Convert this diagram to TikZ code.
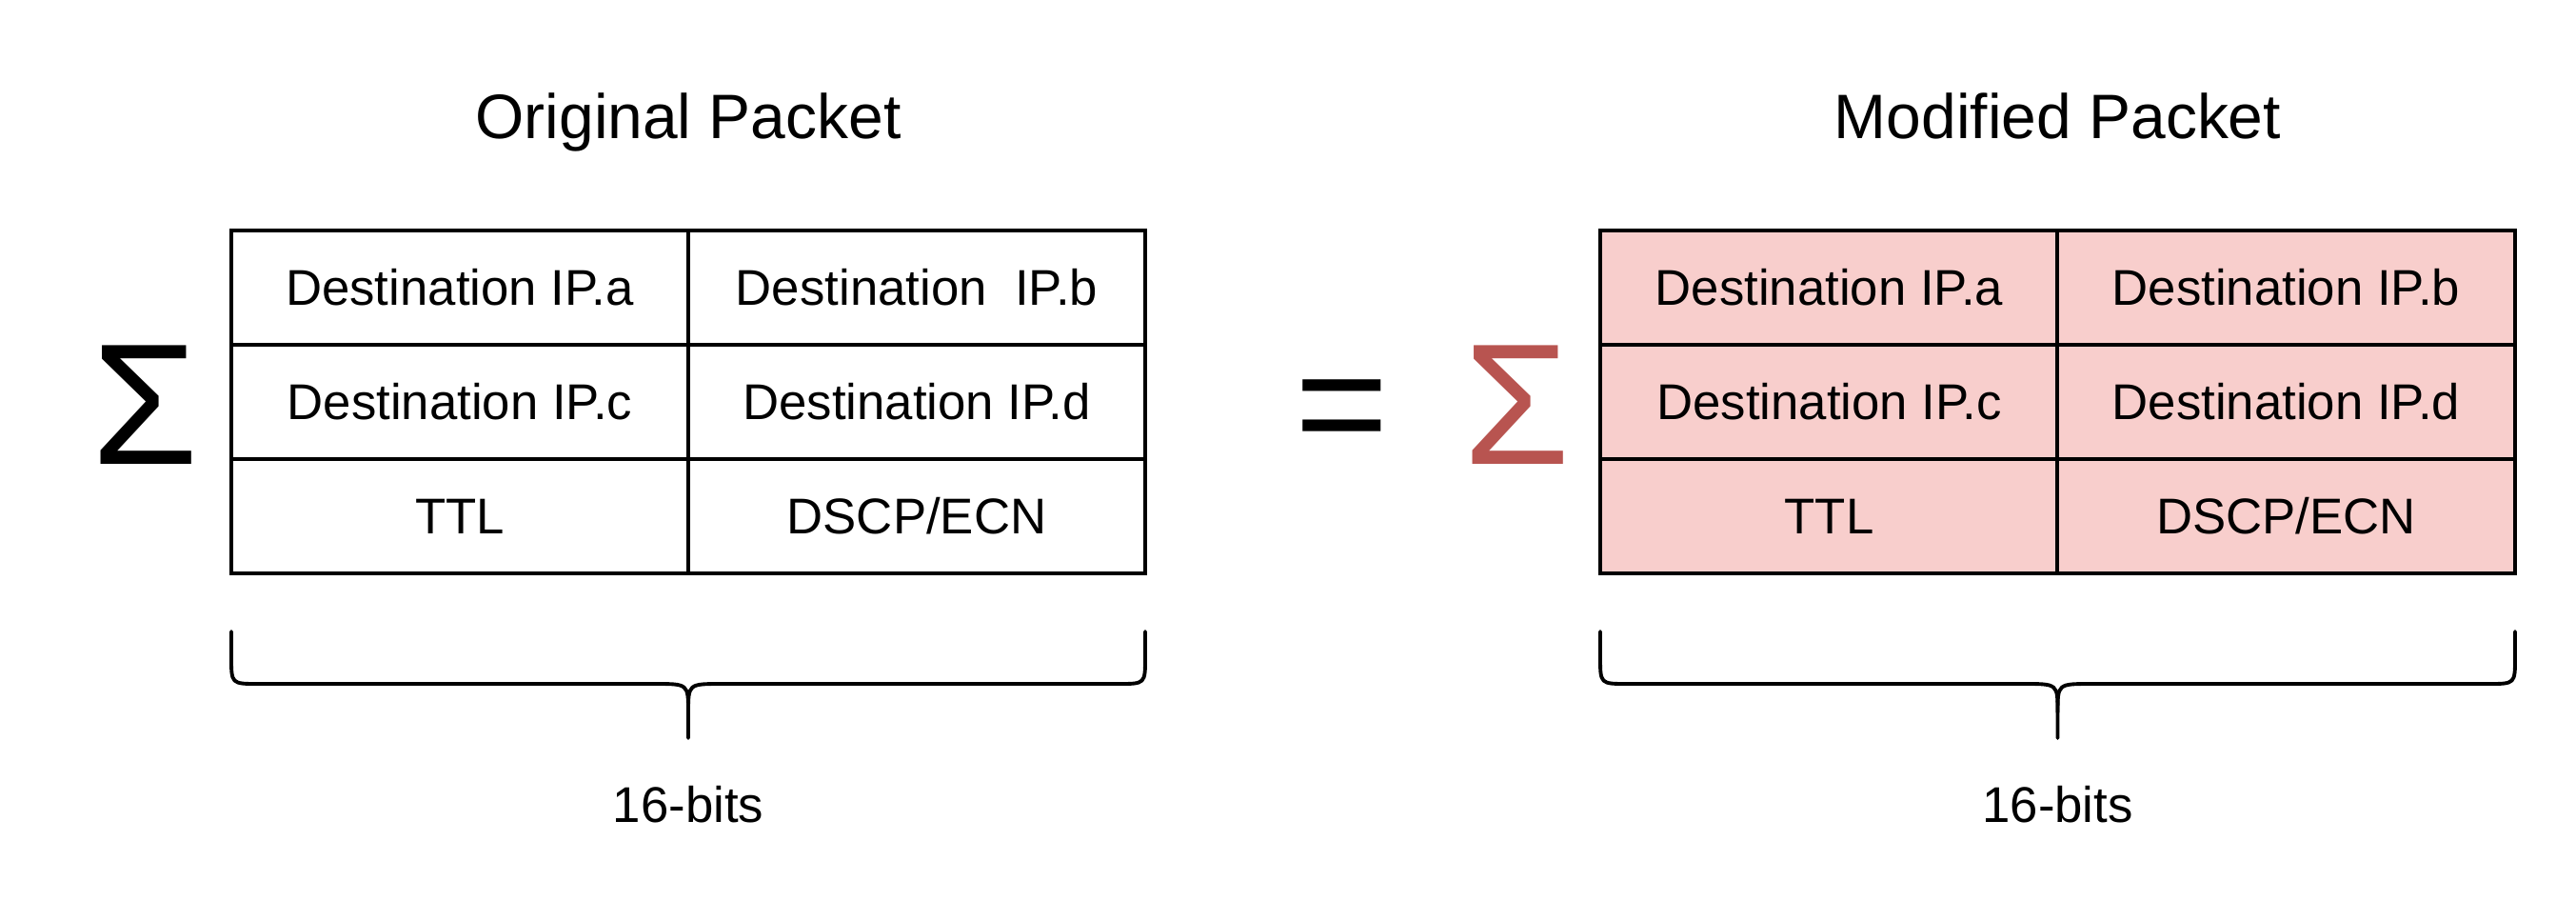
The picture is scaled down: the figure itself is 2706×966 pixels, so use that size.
\documentclass[tikz,border=0pt]{standalone}
\usepackage{fontspec}
\setmainfont{Liberation Sans}
\definecolor{cellred}{HTML}{F8CECC}
\definecolor{sigred}{HTML}{B85450}
\tikzset{
  cell/.style={draw=black, line width=1.1pt, minimum width=4.8cm, minimum height=1.2cm,
    inner sep=0pt, font=\fontsize{15}{18}\selectfont, text height=10.74pt, text depth=0pt},
  redcell/.style={cell, fill=cellred},
  title/.style={inner sep=0pt, font=\fontsize{18.75}{22}\selectfont, text height=13.42pt, text depth=0pt},
  bits/.style={inner sep=0pt, font=\fontsize{15}{18}\selectfont, text height=10.74pt, text depth=0pt},
  bigsym/.style={inner sep=0pt, anchor=base, font=\fontsize{51.5}{60}\selectfont},
  bracel/.style={line width=1.1pt, line cap=round}
}
\begin{document}
\begin{tikzpicture}[x=0.01cm, y=-0.01cm]
\useasboundingbox (0,0) rectangle (2706,966);
% titles
\node[title] (t1) at (723,121.5) {Original Packet};
\node[title] (t2) at (2161.5,121.5) {Modified Packet};
% left table
\node[cell] (a1) at (483,302) {Destination IP.a};
\node[cell] (b1) at (963,302) {Destination~ IP.b};
\node[cell] (c1) at (483,422) {Destination IP.c};
\node[cell] (d1) at (963,422) {Destination IP.d};
\node[cell] (e1) at (483,542) {TTL};
\node[cell] (f1) at (963,542) {DSCP/ECN};
% right table
\node[redcell] (a2) at (1921.5,302) {Destination IP.a};
\node[redcell] (b2) at (2401.5,302) {Destination IP.b};
\node[redcell] (c2) at (1921.5,422) {Destination IP.c};
\node[redcell] (d2) at (2401.5,422) {Destination IP.d};
\node[redcell] (e2) at (1921.5,542) {TTL};
\node[redcell] (f2) at (2401.5,542) {DSCP/ECN};
% symbols
\node[bigsym] (s1) at (152,487) {Σ};
\node[bigsym, font=\fontsize{48}{56}\selectfont] (eq) at (1410,481) {=};
\node[bigsym, text=sigred] (s2) at (1593,487) {Σ};
% braces
\draw[bracel] (243,663) -- (243,690) .. controls (243,718) .. (271,718) -- (688,718) .. controls (723,718) .. (723,748) -- (723,775);
\draw[bracel] (1203,663) -- (1203,690) .. controls (1203,718) .. (1175,718) -- (758,718) .. controls (723,718) .. (723,748);
\draw[bracel] (1681,663) -- (1681,690) .. controls (1681,718) .. (1709,718) -- (2126.5,718) .. controls (2161.5,718) .. (2161.5,748) -- (2161.5,775);
\draw[bracel] (2642,663) -- (2642,690) .. controls (2642,718) .. (2614,718) -- (2196.5,718) .. controls (2161.5,718) .. (2161.5,748);
\node[bits] (l1) at (723,845) {16-bits};
\node[bits] (l2) at (2161.5,845) {16-bits};
\end{tikzpicture}
\end{document}
